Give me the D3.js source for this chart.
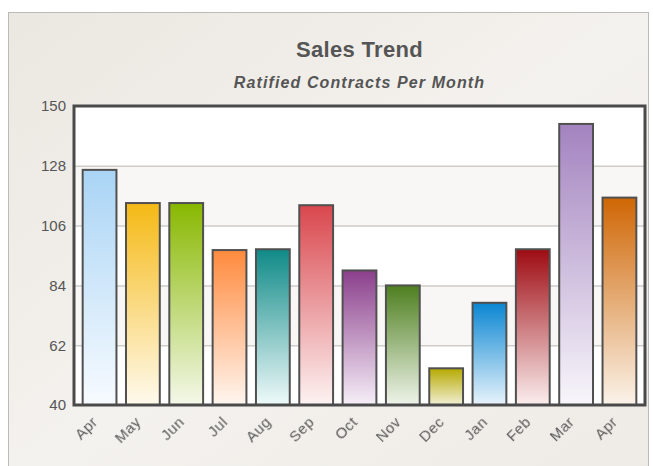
<!DOCTYPE html>
<html>
<head>
<meta charset="utf-8">
<script src="https://cdn.jsdelivr.net/npm/d3@7"></script>
<style>
  body { margin: 0; background: #fff; }
  svg { display: block; font-family: "Liberation Sans", Arial, sans-serif; }
</style>
</head>
<body>
<div id="chart"></div>
<script>
// chart data
const months = ["Apr", "May", "Jun", "Jul", "Aug", "Sep", "Oct", "Nov", "Dec", "Jan", "Feb", "Mar", "Apr "];
const contracts = [126.5, 114.3, 114.3, 97, 97.3, 113.5, 89.5, 84, 53.5, 77.6, 97.3, 143.4, 116.3];
const topColors = ["#a9d4f5", "#f5b915", "#88b800", "#ff8a3d", "#0f8a87", "#d9474d", "#8b3f8c", "#4e7f1f", "#b6a900", "#0a86d2", "#9e0b12", "#a383bf", "#cf6604"];
const bottomColors = ["#f7fbff", "#fffaee", "#f4f8ea", "#fff6f0", "#effafa", "#fdf3f3", "#f6eff8", "#eff4ea", "#f2f0d6", "#e8f4fc", "#fbeeee", "#f8f6fb", "#fbf3ea"];
const yTicks = [40, 62, 84, 106, 128, 150];

const W = 653, H = 466;
const plot = {left: 74, right: 645, top: 106, bottom: 405};

const svg = d3.select("#chart").append("svg")
  .attr("width", W)
  .attr("height", H);

const defs = svg.append("defs");

// panel background
const bg = defs.append("linearGradient").attr("id", "panelBg")
  .attr("x1", 0).attr("y1", 0).attr("x2", 1).attr("y2", 1);
bg.append("stop").attr("offset", 0).attr("stop-color", "#ebe7e1");
bg.append("stop").attr("offset", 0.5).attr("stop-color", "#f4f2ee");
bg.append("stop").attr("offset", 1).attr("stop-color", "#eeebe6");

svg.append("rect")
  .attr("x", 8.5).attr("y", 12.5)
  .attr("width", 640).attr("height", 470)
  .attr("fill", "url(#panelBg)")
  .attr("stroke", "#bdbbb7");

// slight blur like the original's soft text
const blur = defs.append("filter").attr("id", "soft");
blur.append("feGaussianBlur").attr("stdDeviation", 0.35);

// bar gradients
months.forEach((m, i) => {
  const g = defs.append("linearGradient").attr("id", "bar" + i)
    .attr("x1", 0).attr("y1", 0).attr("x2", 0).attr("y2", 1);
  g.append("stop").attr("offset", 0).attr("stop-color", topColors[i]);
  g.append("stop").attr("offset", 1).attr("stop-color", bottomColors[i]);
});

// scales
const x = d3.scaleBand()
  .domain(months)
  .range([plot.left, plot.right])
  .paddingInner(0.22)
  .paddingOuter(0.2);

const y = d3.scaleLinear()
  .domain([40, 150])
  .range([plot.bottom, plot.top]);

// alternating bands
svg.append("rect")
  .attr("x", plot.left).attr("y", plot.top)
  .attr("width", plot.right - plot.left).attr("height", plot.bottom - plot.top)
  .attr("fill", "#ffffff");

svg.append("g").selectAll("rect")
  .data(d3.pairs(yTicks).filter((p, i) => i % 2 === 1))
  .enter().append("rect")
  .attr("x", plot.left)
  .attr("y", d => y(d[1]))
  .attr("width", plot.right - plot.left)
  .attr("height", d => y(d[0]) - y(d[1]))
  .attr("fill", "#f8f7f5");

// gridlines
svg.append("g").selectAll("line")
  .data(yTicks.slice(1, -1))
  .enter().append("line")
  .attr("x1", plot.left).attr("x2", plot.right)
  .attr("y1", d => y(d) + 0.5).attr("y2", d => y(d) + 0.5)
  .attr("stroke", "#cfcdca")
  .attr("stroke-width", 1.5);

// bars
svg.append("g").selectAll("rect")
  .data(contracts)
  .enter().append("rect")
  .attr("x", (d, i) => x(months[i]))
  .attr("y", d => y(d))
  .attr("width", x.bandwidth())
  .attr("height", d => y(40) - y(d))
  .attr("fill", (d, i) => "url(#bar" + i + ")")
  .attr("stroke", "#505050")
  .attr("stroke-width", 2);

// plot frame
svg.append("rect")
  .attr("x", plot.left).attr("y", plot.top)
  .attr("width", plot.right - plot.left).attr("height", plot.bottom - plot.top)
  .attr("fill", "none")
  .attr("stroke", "#4a4a4a")
  .attr("stroke-width", 3);

// y axis
const yAxis = d3.axisLeft(y).tickValues(yTicks).tickSize(0).tickPadding(8);
const yg = svg.append("g")
  .attr("transform", "translate(" + plot.left + ",0)")
  .call(yAxis);
yg.select(".domain").remove();
yg.selectAll("text")
  .attr("font-size", 15)
  .attr("fill", "#555")
  .attr("font-family", "'Liberation Sans', Arial, sans-serif");

// x axis
const xAxis = d3.axisBottom(x).tickSize(0).tickPadding(0);
const xg = svg.append("g")
  .attr("transform", "translate(0," + plot.bottom + ")")
  .call(xAxis);
xg.select(".domain").remove();
xg.selectAll("text")
  .text(d => d.trim())
  .attr("font-size", 15)
  .attr("letter-spacing", 0.5)
  .attr("fill", "#5a5a5a")
  .attr("filter", "url(#soft)")
  .attr("font-family", "'Liberation Sans', Arial, sans-serif")
  .attr("text-anchor", "end")
  .attr("dy", 0)
  .attr("transform", "translate(-1,18) rotate(-45)");

// titles
svg.append("text")
  .attr("x", (plot.left + plot.right) / 2)
  .attr("y", 57)
  .attr("text-anchor", "middle")
  .attr("font-size", 22)
  .attr("letter-spacing", 0.3)
  .attr("font-weight", "bold")
  .attr("fill", "#555")
  .text("Sales Trend");

svg.append("text")
  .attr("x", (plot.left + plot.right) / 2)
  .attr("y", 88)
  .attr("text-anchor", "middle")
  .attr("font-size", 16)
  .attr("letter-spacing", 1.1)
  .attr("font-style", "italic")
  .attr("font-weight", "bold")
  .attr("fill", "#555")
  .text("Ratified Contracts Per Month");
</script>
</body>
</html>
